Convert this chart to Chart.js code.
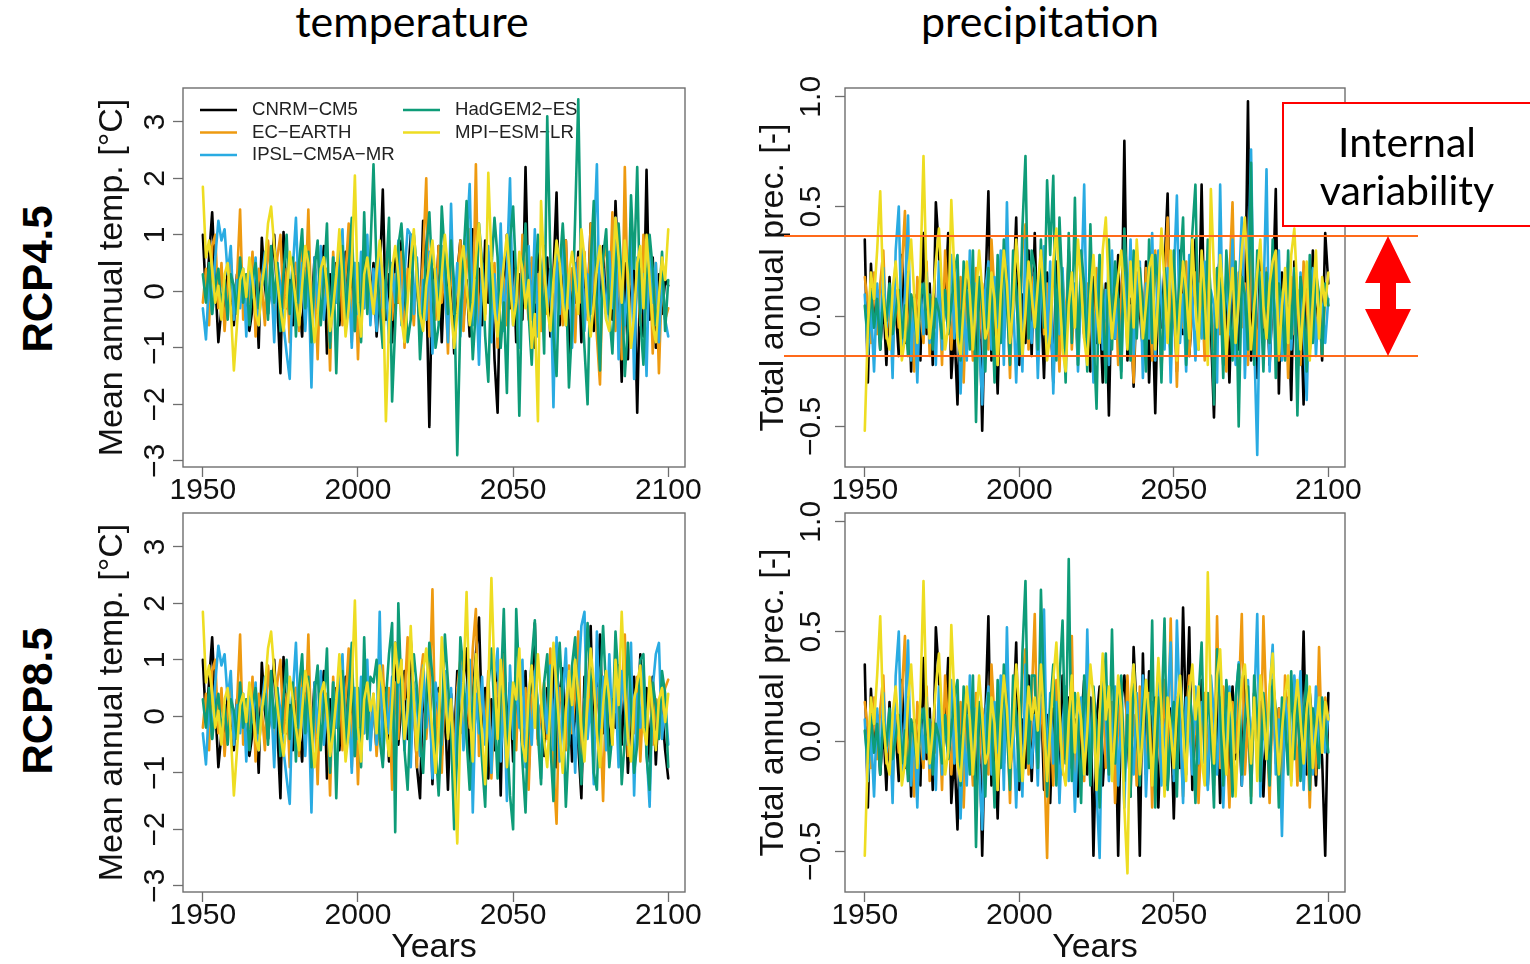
<!DOCTYPE html>
<html>
<head>
<meta charset="utf-8">
<script src="https://cdn.jsdelivr.net/npm/chart.js@4.4.1/dist/chart.umd.min.js"></script>
<style>
  body { margin: 0; background: #fff; width: 1530px; height: 964px; overflow: hidden; position: relative; }
  canvas { position: absolute; }
  .head { position: absolute; font-family: Lato, sans-serif; font-size: 43px; line-height: 1; color: #000; white-space: nowrap; transform: translateX(-50%); }
  .row { position: absolute; font-family: "Liberation Sans", Arial, sans-serif; font-weight: bold; font-size: 42px; line-height: 1; color: #000; white-space: nowrap; transform: translate(-50%, -50%) rotate(-90deg); }
</style>
</head>
<body>
<div class="head" style="left:412px;top:-1px">temperature</div>
<div class="head" style="left:1040px;top:-1px">precipitation</div>
<div class="row" style="left:38px;top:279px">RCP4.5</div>
<div class="row" style="left:38px;top:701px">RCP8.5</div>
<canvas id="temp45" width="740" height="450" style="left:0;top:60px"></canvas>
<canvas id="prec45" width="790" height="450" style="left:740px;top:60px"></canvas>
<canvas id="temp85" width="740" height="479" style="left:0;top:485px"></canvas>
<canvas id="prec85" width="790" height="479" style="left:740px;top:485px"></canvas>
<script>
// Annual anomalies per GCM, 1950-2100.
// Historical runs (1950-2004) are shared by both scenarios; scenario runs cover 2005-2100.
const FIRST_YEAR = 1950
const LAST_YEAR = 2100

const MODELS = ['CNRM\u2212CM5', 'EC\u2212EARTH', 'IPSL\u2212CM5A\u2212MR', 'HadGEM2\u2212ES', 'MPI\u2212ESM\u2212LR']
const COLORS = ['#000000', '#EE9A10', '#29ABE2', '#0E9C78', '#EEDD22']

const X_TICKS = [1950, 2000, 2050, 2100]
const TEMP_TICKS = [-3, -2, -1, 0, 1, 2, 3]
const PREC_TICKS = [-0.5, 0, 0.5, 1]

// bounds of the internal variability band (precipitation, RCP4.5)
const BAND_HIGH = 0.366
const BAND_LOW = -0.18

// ---- mean annual temperature [°C] ----
const tempHistCNRM = [
  1.0,-0.1,0.6,1.4,0.2,-0.9,-0.3,-0.5,0.4,-0.2,
  -0.6,0.3,-0.2,0.1,-0.4,-0.7,-0.3,0.2,-1.0,0.95,
  0.1,-0.4,0.3,1.0,-0.2,-1.45,1.05,-0.3,0.2,-0.6,
  0.5,-0.2,-0.8,0.4,0.1,-0.4,0.6,-0.5,0.2,0.8,
  -1.1,0.3,-0.3,0.5,-0.6,0.2,0.7,-0.2,0.4,-0.7,
  0.3,-0.4,0.6,0.1,-0.3]
const tempR45CNRM = [
  0.5,-0.8,0.2,1.8,-0.5,
  0.3,-0.9,0.6,-0.2,0.9,-0.6,0.1,1.0,-0.4,0.3,
  -0.7,1.25,0.2,-2.4,0.4,-0.3,0.8,-0.9,0.5,-0.2,
  0.6,-1.1,0.3,0.9,-0.5,0.2,-0.8,1.1,-0.3,0.4,
  -0.6,0.9,-0.2,0.5,-1.2,-2.15,0.6,-0.4,1.0,-0.3,
  0.7,-0.9,0.3,-0.5,2.2,-0.2,0.5,-1.0,0.8,0.1,
  -0.4,0.6,-0.8,0.3,1.75,-0.6,0.2,0.9,-1.3,0.4,
  -0.2,0.7,-0.9,0.5,-0.3,1.2,-0.7,0.3,-0.5,0.8,
  -0.4,0.6,-0.5,1.6,0.2,-1.6,0.5,-1.2,0.9,0.3,
  -2.15,0.4,-0.8,2.15,-0.5,0.6,-1.0,0.3,-0.4,0.2,0.1]
const tempR85CNRM = [
  0.2,-0.6,0.9,-0.3,0.5,
  -0.8,0.4,1.3,-0.5,0.2,0.8,-0.4,1.35,0.3,-0.9,
  -1.45,0.6,-0.2,0.9,-1.2,0.3,0.5,-0.7,0.2,-1.3,
  0.4,-0.5,0.8,-0.3,0.6,1.2,-0.9,0.4,1.1,1.75,
  -0.2,0.5,-1.1,0.3,-0.6,0.9,-1.4,1.2,-0.3,0.6,
  -0.8,0.4,0.1,-0.5,0.8,-1.0,0.3,1.65,-0.4,0.2,
  -0.7,0.5,-0.2,0.9,-0.9,0.4,0.85,-0.3,0.6,-0.8,
  0.3,-0.5,-1.45,0.7,0.2,1.6,-0.6,0.4,1.45,-0.3,
  0.5,-0.7,0.3,-0.2,0.9,-0.5,0.6,-1.0,0.2,0.7,
  -0.4,1.1,-0.2,0.5,-0.8,0.7,-0.85,0.3,0.1,-0.6,-1.1]

const tempHistEC = [
  -0.2,0.4,-0.6,0.8,1.0,-0.3,0.5,-0.7,0.1,0.6,
  -0.4,0.2,1.45,-0.5,0.3,-0.2,0.7,-0.8,0.4,0.1,
  -0.6,0.9,0.3,-0.4,0.6,1.0,-0.3,0.4,-0.9,0.2,
  0.5,-0.7,0.8,-0.2,1.45,-0.5,0.3,-1.2,0.6,-0.3,
  0.4,-1.4,0.7,-0.2,0.9,-0.6,0.3,1.2,-0.9,0.5,
  -1.2,0.4,-0.3,0.8,-0.5]
const tempR45EC = [
  0.3,-0.4,0.6,-0.9,0.2,
  0.9,-0.5,0.3,-0.2,0.7,-1.0,0.4,0.1,-0.6,0.5,
  -0.3,0.6,2.0,-0.8,0.2,-0.5,0.8,-0.2,0.4,-1.1,
  0.6,-0.3,0.2,0.9,-0.7,0.4,1.1,-0.5,2.25,-0.9,
  0.3,-0.4,0.7,-0.2,0.5,-1.0,0.6,0.2,-0.6,0.9,
  -0.3,0.4,-0.8,1.0,0.2,-0.5,0.6,-0.2,0.3,-0.7,
  0.8,-0.4,0.3,-1.1,0.5,0.2,-0.6,0.9,-0.3,0.4,
  -0.9,0.6,-0.2,0.7,-0.5,1.2,0.3,-0.8,-1.65,0.5,
  0.9,-0.4,1.4,-0.7,0.5,-1.2,2.2,-0.3,0.6,-0.9,
  0.4,-0.6,1.0,-0.3,0.7,-1.1,0.5,-1.45,0.3,-0.5,-0.3]
const tempR85EC = [
  0.4,-0.7,0.2,0.9,-0.3,
  0.5,-1.3,0.6,-0.4,0.8,0.3,1.4,-0.5,0.2,-0.9,
  0.6,1.1,-0.4,0.3,2.25,-0.6,0.4,-1.0,0.7,-0.2,
  0.3,-0.8,0.5,1.0,-0.5,0.4,-0.2,1.2,1.9,-0.7,
  0.5,-0.3,0.8,-1.1,0.2,0.6,-0.4,1.1,-0.8,0.3,
  0.4,-0.6,0.9,-0.2,0.5,-1.3,0.3,0.7,-0.5,0.2,
  0.6,-0.4,1.2,-0.9,-1.9,0.5,0.2,-0.6,0.9,-0.3,
  0.4,1.5,-0.7,0.3,-0.2,0.8,-1.0,0.5,0.1,-1.5,
  0.6,0.3,-0.5,0.9,-0.2,0.4,1.45,-0.7,0.5,-0.3,
  0.7,-0.8,0.4,-0.2,0.6,-0.5,0.3,-0.4,0.2,0.5,0.65]

const tempHistIPSL = [
  -0.3,-0.85,0.2,-0.4,0.6,1.25,0.9,1.1,0.3,0.8,
  -0.5,0.2,-0.3,0.4,-0.8,0.5,-0.1,0.6,-0.6,0.2,
  0.7,-0.4,0.3,-0.9,0.5,0.1,-0.6,-1.1,-1.55,0.4,
  1.3,-0.2,0.5,-0.7,0.3,-1.7,0.6,-0.3,0.8,-0.5,
  0.2,-0.9,0.6,-0.2,0.4,1.1,-0.6,0.3,-1.0,0.5,
  -0.4,0.7,-0.3,1.0,-0.6]
const tempR45IPSL = [
  0.4,-0.7,0.8,-0.3,0.2,
  -0.9,0.5,-0.2,0.9,-0.6,0.3,1.1,1.0,-0.4,0.6,
  -0.8,0.2,-0.5,0.7,-1.1,0.4,-0.3,0.8,0.1,-0.9,
  1.55,-0.4,0.5,-0.8,0.3,0.9,1.9,-0.6,0.2,-1.3,
  0.5,-0.2,0.8,-0.9,0.3,-0.5,1.2,-0.7,0.4,2.0,
  -0.6,0.3,-1.0,0.5,-0.2,0.8,-0.5,1.1,-0.8,0.2,
  0.6,-0.3,0.4,-2.05,0.7,-0.4,0.9,-0.6,0.3,-1.0,
  0.5,-0.2,1.0,-0.7,0.3,-0.4,0.8,2.25,-0.9,0.4,
  -0.5,0.7,-0.3,1.3,-1.2,0.4,-0.6,0.2,1.0,-1.55,
  0.6,-0.4,0.3,-1.5,0.8,-0.2,0.5,-0.9,0.3,-0.5,-0.8]
const tempR85IPSL = [
  0.3,-0.5,1.85,-0.8,0.4,
  -0.3,0.7,-1.0,0.5,1.0,-0.6,0.3,-0.9,0.6,0.2,
  -0.7,0.9,-0.2,0.4,-1.1,0.6,0.1,-0.5,0.8,-0.3,
  0.5,-1.2,0.3,0.9,-0.6,0.2,1.0,-1.7,0.4,-0.3,
  0.7,-0.5,0.3,-1.0,0.6,1.2,-0.8,0.4,-1.5,0.9,
  -0.4,0.6,-0.2,1.0,-0.9,0.3,-0.5,0.8,0.2,-1.1,
  0.5,-0.3,0.9,-0.6,1.4,-0.8,0.3,1.2,-0.5,0.4,
  -1.0,0.6,1.6,1.85,-0.4,0.3,-1.2,1.5,-0.2,0.7,
  -0.6,1.1,-0.3,0.5,-0.9,0.8,0.2,-0.5,1.3,-1.4,
  0.4,-0.2,0.9,-0.6,-1.6,0.5,1.1,1.3,-0.4,0.3,-0.5]

const tempHistHad = [
  0.3,-0.2,0.5,-0.4,0.1,0.4,-0.3,0.2,-0.5,0.3,
  0.1,-0.4,0.6,-0.2,0.3,-0.6,0.2,0.5,-0.3,0.1,
  0.4,-0.5,0.8,-0.2,0.5,-0.7,0.3,1.0,-0.4,0.6,
  -0.8,0.5,1.1,-0.3,0.7,-0.9,0.4,0.9,-0.6,0.2,
  1.2,-1.0,0.6,-1.45,0.3,0.8,-0.5,0.4,1.3,-0.7,
  0.5,-0.9,1.4,-0.4,0.7]
const tempR45Had = [
  2.25,0.4,-0.3,-1.0,0.2,
  1.3,-1.95,-0.6,0.8,1.2,0.3,-0.9,-0.5,1.0,0.4,
  -1.2,-0.3,0.7,1.4,0.2,-1.0,-0.6,1.5,0.6,-0.4,
  0.9,0.1,-2.9,-0.5,0.6,1.6,0.2,-1.2,-0.3,1.2,
  0.5,-0.8,-1.6,0.4,1.3,0.6,-1.0,-0.2,-1.8,0.9,
  1.5,0.2,-2.2,0.3,1.2,-0.4,-1.3,0.1,1.0,0.4,
  -1.1,3.1,0.6,-0.8,-1.5,0.4,1.2,0.2,-1.7,-0.6,
  1.3,3.4,0.1,-1.0,-2.0,0.5,1.6,-0.3,-1.4,0.6,
  1.1,-0.4,-1.1,0.3,1.2,0.2,-1.5,-0.6,1.7,0.4,
  2.2,-0.5,-1.3,0.2,1.0,0.4,-0.6,-0.2,0.7,-0.7,0.2]
const tempR85Had = [
  0.6,1.0,-0.4,-0.9,0.3,
  1.1,1.65,-2.05,2.0,0.4,-0.6,-1.3,0.2,1.1,0.5,
  -0.4,-1.0,0.3,1.3,0.7,-0.5,-1.4,-0.2,1.45,0.6,
  -0.3,-2.0,-0.6,1.4,0.8,-0.4,-1.3,0.2,1.0,0.3,
  -0.8,-1.6,0.5,1.2,0.1,-1.1,0.4,1.9,-0.3,-1.4,
  -2.0,1.9,0.6,-0.8,-1.7,0.2,1.0,1.7,-0.3,-1.2,
  0.6,1.1,-0.5,-1.5,0.4,1.3,0.2,-1.6,-0.4,0.9,
  1.4,-0.2,-1.2,0.3,1.65,0.7,-1.0,-1.3,0.5,1.6,
  0.4,-0.9,-0.3,1.5,0.6,-1.2,-0.4,1.3,0.2,-1.0,
  -0.5,1.0,1.1,-0.7,-1.3,0.6,0.2,-0.4,0.8,0.4,-0.9]

const tempHistMPI = [
  1.85,0.6,0.9,0.4,-0.2,0.1,-0.5,0.3,0.5,-0.3,
  -1.4,-0.6,0.2,0.4,-0.1,0.6,0.2,-0.4,-0.6,0.1,
  0.5,1.2,1.5,0.8,0.2,-0.3,-0.7,-0.1,0.7,0.3,
  -0.2,-0.6,0.1,0.8,0.5,-0.2,-0.9,-0.4,0.4,0.6,
  0.1,-0.7,-0.3,0.3,1.1,0.2,-0.8,-0.3,0.5,2.05,
  -0.2,-0.8,0.3,0.6,0.1]
const tempR45MPI = [
  -0.4,0.3,0.9,0.2,-2.3,
  -0.6,0.4,0.8,0.3,-0.5,-0.9,-0.2,0.6,1.1,0.2,
  -0.4,-0.7,0.1,0.5,0.9,0.2,-0.5,0.3,1.0,0.4,
  -0.3,-1.0,-0.4,0.5,0.8,0.1,-0.6,-0.2,0.6,1.2,
  0.3,-0.5,2.1,0.6,-0.3,-0.8,-0.1,0.5,1.0,0.2,
  -0.6,-0.2,0.7,0.4,-0.3,0.2,-1.0,-0.4,-2.3,1.6,
  0.4,-0.3,-0.7,0.2,0.9,0.5,-0.2,-0.6,0.3,0.7,
  0.2,-0.4,1.1,0.6,-0.3,-0.8,-0.2,0.4,0.8,0.1,
  -0.5,-0.7,0.2,1.3,0.6,-0.2,0.9,0.3,-1.0,-0.4,
  0.5,0.8,-0.3,1.0,0.2,-0.6,-0.9,-0.1,0.6,0.2,1.1]
const tempR85MPI = [
  0.4,-0.3,0.9,0.5,-0.2,
  -0.7,0.2,1.3,0.6,1.0,-0.4,0.1,1.6,0.3,-0.6,
  0.2,0.8,1.2,0.4,-0.3,-1.0,-0.2,1.4,0.5,-0.4,
  0.3,-0.9,-2.25,-0.2,0.6,2.2,0.1,-0.8,1.1,0.4,
  -0.3,-1.2,0.5,2.45,0.7,-0.4,1.0,0.2,-0.9,-0.2,
  0.6,0.3,1.2,-0.5,-0.8,0.4,0.9,-0.2,1.1,0.3,
  -0.4,-0.9,0.2,1.3,0.5,-0.3,-1.0,0.1,0.8,0.2,
  1.0,0.4,-0.2,-0.8,0.3,1.2,0.6,-0.3,-0.9,0.2,
  0.8,0.3,-0.5,1.0,0.2,1.85,0.5,-0.4,-0.8,0.3,
  0.6,0.9,-0.2,-0.5,0.7,0.1,-0.6,0.3,0.5,-0.1,0.4]

// ---- total annual precipitation [-] ----
const precHistCNRM = [
  .35,-.30,.24,-.05,.12,-.15,.08,-.22,.18,-.10,
  .05,-.18,.28,-.12,.20,-.25,.10,.02,-.20,.38,
  -.08,.15,-.22,.52,.30,-.12,.05,.38,-.28,-.05,
  -.40,.12,-.18,.22,-.10,.08,-.30,.15,-.52,.10,
  .57,-.20,.05,-.35,.18,-.10,.25,-.15,.08,.45,
  -.22,.10,-.12,.30,-.18]
const precR45CNRM = [
  .38,-.15,.10,-.28,.20,
  .05,-.30,.25,-.10,.15,-.22,.30,-.05,.12,-.18,
  .22,-.08,.10,-.25,.18,-.12,.05,-.30,.15,-.45,
  .20,-.10,.28,-.15,.80,-.20,.08,-.32,.12,.02,
  -.15,.25,-.30,.10,-.44,.18,-.05,.22,.56,-.20,
  .12,-.25,.30,-.08,.15,-.18,.05,.35,-.12,.60,
  -.10,.20,-.05,-.46,.15,.28,-.22,.10,-.30,.18,
  .05,-.15,.25,-.08,.98,-.20,.12,-.28,.30,-.10,
  .15,-.22,.08,.58,-.35,.20,-.12,.05,-.38,.25,
  -.10,.12,-.40,.22,-.15,.30,-.05,.10,-.20,.38,.15]
const precR85CNRM = [
  .18,-.10,.25,-.22,.12,
  -.28,.15,.05,-.18,.30,-.08,.20,-.12,.10,-.25,
  .08,.28,-.15,.20,-.52,.10,.25,-.20,.05,.15,
  -.10,.22,-.52,.18,.30,.05,-.25,.43,.12,-.52,
  .40,-.15,.32,-.08,.20,-.30,.12,.25,-.20,.15,
  -.35,.18,-.12,.61,.05,.52,-.22,.10,-.15,.28,
  .08,-.20,.15,-.10,.22,-.28,.05,.18,-.12,.25,
  -.08,.12,-.20,.30,.05,-.15,.22,-.10,.18,-.25,
  .10,-.18,.25,-.05,.15,-.22,.08,.20,-.12,.05,
  .18,-.10,.50,-.15,.22,.05,-.20,.12,-.08,-.52,.22]

const precHistEC = [
  .18,.05,-.12,.20,-.08,.15,.30,-.10,.08,-.20,
  .12,-.05,.22,.48,-.15,.10,-.25,.18,.02,-.12,
  .25,-.18,.08,-.05,.15,-.22,.30,.05,-.15,.10,
  -.08,.18,-.30,.12,.05,-.20,.22,-.10,.15,.02,
  -.15,.35,.10,-.22,.25,-.05,.12,-.28,.20,.08,
  -.10,.30,.42,-.15,.18]
const precR45EC = [
  .05,-.20,.28,-.08,.15,
  -.12,.22,.08,-.25,.18,-.05,.30,-.15,.10,-.22,
  .20,-.10,.15,.05,-.28,.22,-.08,.12,-.18,.25,
  -.05,.18,-.22,.10,.28,-.12,.05,-.30,.20,.08,
  -.15,.22,.10,-.20,.30,.05,-.25,.15,.45,-.10,
  .18,-.32,.12,-.05,.25,-.18,.08,.20,-.12,.15,
  -.20,.28,.05,-.15,.22,-.08,.12,-.25,.18,.52,
  -.10,.20,-.05,.15,-.22,.30,.08,-.18,.12,-.05,
  .22,-.15,.10,.28,-.20,.05,.15,-.28,.18,-.08,
  .12,-.22,.25,.05,-.15,.20,-.10,.08,-.18,.10,.05]
const precR85EC = [
  .58,-.12,.20,-.05,-.53,
  .15,-.20,.28,.08,-.15,.22,-.10,.48,-.25,.12,
  .05,-.18,.30,-.08,.15,-.22,.10,.25,-.12,.05,
  .18,-.28,.08,.20,-.15,.30,-.05,.12,-.20,.25,
  .10,-.12,.22,-.30,.15,.05,-.18,.28,-.08,.56,
  -.15,.20,.08,-.25,.12,.30,-.10,.18,-.28,.05,
  .22,-.08,.15,-.20,.57,-.12,.25,.05,-.30,.18,
  -.05,.20,.58,-.15,.10,-.25,.22,.08,-.18,.57,
  .12,-.28,.20,-.10,.15,-.22,.30,.05,-.12,.18,
  -.20,.25,-.08,.12,-.30,.15,-.15,.43,-.05,.20,.10]

const precHistIPSL = [
  .10,-.18,.05,-.25,.15,-.10,.22,-.05,.12,-.28,
  .30,.50,-.15,.10,.46,-.20,.08,-.30,.15,-.08,
  .20,-.12,.05,-.22,.25,-.15,.10,-.05,.28,-.10,
  .22,-.35,.05,-.20,.30,-.08,.15,-.10,-.40,.12,
  .25,-.15,.18,-.05,.30,-.22,.52,-.10,.08,-.30,
  .15,-.25,.35,.05,-.12]
const precR45IPSL = [
  .20,-.28,.10,.32,-.15,
  .25,-.35,.12,-.08,.22,-.18,.30,-.05,.15,-.25,
  .10,.60,-.20,.18,-.30,.05,.28,-.15,.12,-.22,
  .30,-.10,.08,-.25,.20,-.05,.35,-.18,.12,.25,
  -.28,.15,-.10,.38,-.20,.30,.05,-.15,.22,-.30,
  .18,.55,-.12,.10,-.25,.28,.08,-.20,.15,-.10,
  .25,-.18,.12,.05,-.30,.60,-.15,.20,-.08,.35,
  -.22,.10,.45,-.28,.15,.76,-.10,-.63,.20,.05,
  .67,-.25,.18,-.12,.30,-.20,.08,.25,-.15,.12,
  -.30,.20,-.05,-.38,.15,.22,-.18,.10,.05,-.12,.08]
const precR85IPSL = [
  .12,-.20,.30,.60,-.15,
  .22,-.10,.18,-.28,.08,.25,-.18,.12,-.32,.05,
  .20,-.15,.51,-.08,.15,-.22,-.53,.28,.10,-.18,
  .05,.25,-.20,.12,-.30,.18,.08,-.15,.22,-.10,
  .30,-.25,.10,.18,-.12,.28,-.20,.05,.15,.45,
  -.18,.55,.12,-.28,.20,.08,-.15,.25,-.10,.18,
  .05,-.22,.30,.12,-.15,.20,-.30,.08,.25,-.12,
  .18,.36,-.20,.10,.28,-.05,.15,.58,-.25,.12,
  -.08,.22,.44,-.15,.10,-.43,.20,.05,-.18,.30,
  .12,.32,-.22,.08,.20,-.15,.25,-.10,.18,-.05,.12]

const precHistHad = [
  .05,-.10,.12,-.05,.08,-.15,.10,-.02,.15,-.08,
  .02,.12,-.10,.05,-.18,.10,.02,-.12,.08,.15,
  -.05,.10,-.15,.08,.02,-.10,.12,-.08,.05,.20,
  .28,-.20,.25,.10,-.15,.30,-.48,.18,.05,-.25,
  .22,.10,-.30,.28,-.12,.35,.05,-.22,.30,.12,
  -.18,.40,.73,-.10,.30]
const precR45Had = [
  .22,-.15,.35,-.05,.62,
  .28,.64,-.20,.45,.10,-.30,.38,-.12,.54,-.22,
  .30,.15,-.25,.42,-.08,-.42,.28,.10,-.30,.35,
  -.15,.25,.08,-.28,.40,.12,-.20,.30,-.10,.22,
  .05,-.25,.35,-.12,.28,.15,-.30,.22,.08,-.18,
  .30,-.08,.20,.45,-.22,.12,.38,.60,-.15,.25,
  -.10,.35,.08,-.40,.22,.15,-.28,.30,.05,-.20,
  .25,-.50,.18,.10,-.15,.70,-.22,.30,.12,-.25,
  .20,-.12,.35,-.28,.15,.08,-.20,.30,-.10,.22,
  -.45,.18,.05,-.25,.28,-.12,.20,.10,-.18,.15,.05]
const precR85Had = [
  .30,-.12,.69,.20,-.25,
  .15,.35,-.20,.28,.55,-.10,.83,-.18,.22,.08,
  -.28,.30,.12,-.20,.25,.05,-.30,.18,.40,-.15,
  .51,-.10,.22,.30,-.18,.12,-.25,.35,.08,-.20,
  .15,.28,-.12,.55,-.30,.20,.10,.56,-.22,.05,
  .18,-.25,.30,.12,-.15,.25,.08,-.28,.20,.45,
  -.10,.22,.05,-.30,.42,.15,-.20,.28,.10,-.25,
  .20,.35,-.15,.08,.25,-.28,.30,.12,-.18,.22,
  .05,-.20,.28,.15,-.30,.20,.10,-.15,.32,-.08,
  .25,-.18,.12,.30,-.22,.15,.05,-.12,.20,.08,-.05]

const precHistMPI = [
  -.52,-.05,.20,.08,.30,.57,.10,-.08,-.15,.12,
  .25,.05,-.20,-.10,.18,.35,.10,-.12,.20,.73,
  .15,-.10,.05,.25,.40,.12,-.15,-.05,.53,.20,
  -.10,-.18,.05,.25,.10,-.15,.08,.30,.12,-.10,
  -.05,.20,.08,-.22,.10,.30,.15,-.12,.05,.35,
  .15,-.18,.02,.25,.10]
const precR45MPI = [
  -.05,.15,.30,.08,-.20,
  -.08,.25,.40,.12,-.15,-.25,.05,.20,-.05,.35,
  .15,-.10,-.22,.10,.28,.05,-.12,.30,.45,.10,
  -.10,.05,.18,.30,.08,-.15,.25,-.05,.35,.12,
  -.10,.05,.22,.28,-.15,.10,.40,.15,-.12,.30,
  .08,-.20,.05,.25,.12,-.10,.35,.05,-.15,.30,
  .10,-.22,.58,.20,-.05,.28,.10,-.18,.05,.22,
  -.12,.08,.30,.45,.15,-.15,.05,.20,.35,.05,
  -.10,.15,.25,.30,-.18,.05,.22,-.12,.28,.40,
  .10,-.15,.05,.25,-.20,.08,.30,-.10,.18,.05,.20]
const precR85MPI = [
  .20,.05,.35,.10,-.18,
  .05,.28,.45,.15,-.12,-.20,.10,.30,-.05,.22,
  .10,-.15,.05,.35,.20,-.22,.12,.40,.10,.25,
  -.18,.05,.30,.15,-.30,-.60,.20,.35,.10,-.15,
  .05,.28,.12,-.20,.10,.38,.15,-.25,.20,.05,
  -.12,.15,.30,.05,-.18,.22,.35,.10,.25,-.08,
  -.20,.77,.15,-.10,.30,.42,.05,-.15,.22,.10,
  -.25,.05,.28,.35,.12,-.10,.20,-.18,.30,.15,
  -.08,.25,.40,.10,-.15,.05,.22,.30,-.20,.12,
  .28,.10,-.10,.15,.25,-.12,.05,.20,-.05,.18,.10]

const YEARS = []
for (let yr = FIRST_YEAR; yr <= LAST_YEAR; yr++) YEARS.push(yr)

const INK = '#111111'
const AXIS = '#6e6e6e'
Chart.defaults.font.family = '"Liberation Sans", Arial, Helvetica, sans-serif'
Chart.defaults.color = INK

const minus = s => s.replace('-', '\u2212')

// box around the plotting region, drawn over the lines like R's box()
const frame = {
  id: 'frame',
  afterDatasetsDraw (chart) {
    const {ctx, chartArea: a} = chart
    ctx.save()
    ctx.strokeStyle = AXIS
    ctx.lineWidth = 1.4
    ctx.strokeRect(a.left, a.top, a.right - a.left, a.bottom - a.top)
    ctx.restore()
  }
}

// R-style legend without a box, two columns, lines overdraw it
const modelKey = {
  id: 'modelKey',
  beforeDatasetsDraw (chart) {
    const {ctx, chartArea: a} = chart
    ctx.save()
    ctx.font = '18.6px "Liberation Sans", Arial, sans-serif'
    ctx.textBaseline = 'middle'
    ctx.fillStyle = '#222'
    ctx.lineWidth = 2.6
    MODELS.forEach((name, m) => {
      const col = m < 3 ? 0 : 1
      const row = m < 3 ? m : m - 3
      const x0 = a.left + (col ? 220 : 17)
      const y = a.top + 22 + row * 22.5
      ctx.strokeStyle = COLORS[m]
      ctx.beginPath()
      ctx.moveTo(x0, y)
      ctx.lineTo(x0 + 37, y)
      ctx.stroke()
      ctx.fillText(name, x0 + 52, y)
    })
    ctx.restore()
  }
}

// orange band, red double arrow and the text box
const bandNote = {
  id: 'bandNote',
  afterDraw (chart) {
    const {ctx, chartArea: a, scales: {y}} = chart
    const yHi = y.getPixelForValue(BAND_HIGH)
    const yLo = y.getPixelForValue(BAND_LOW)
    ctx.save()

    ctx.fillStyle = '#fff'
    ctx.strokeStyle = '#ff0000'
    ctx.lineWidth = 2
    ctx.fillRect(a.right - 62, a.top + 15, chart.width, 123)
    ctx.strokeRect(a.right - 62, a.top + 15, chart.width, 123)
    ctx.fillStyle = '#000'
    ctx.font = '41px Lato, sans-serif'
    ctx.textAlign = 'center'
    ctx.fillText('Internal', a.right + 62, a.top + 69)
    ctx.fillText('variability', a.right + 62, a.top + 117)

    ctx.strokeStyle = '#ff6a1a'
    ctx.lineWidth = 2
    for (const py of [yHi, yLo]) {
      ctx.beginPath()
      ctx.moveTo(a.left - 61, py)
      ctx.lineTo(a.right + 73, py)
      ctx.stroke()
    }

    const cx = a.right + 43, head = 47, hw = 23, sw = 8
    ctx.fillStyle = '#ff0000'
    ctx.beginPath()
    ctx.moveTo(cx, yHi)
    ctx.lineTo(cx + hw, yHi + head)
    ctx.lineTo(cx + sw, yHi + head)
    ctx.lineTo(cx + sw, yLo - head)
    ctx.lineTo(cx + hw, yLo - head)
    ctx.lineTo(cx, yLo)
    ctx.lineTo(cx - hw, yLo - head)
    ctx.lineTo(cx - sw, yLo - head)
    ctx.lineTo(cx - sw, yHi + head)
    ctx.lineTo(cx - hw, yHi + head)
    ctx.closePath()
    ctx.fill()
    ctx.restore()
  }
}

function panel (id, p) {
  const datasets = MODELS.map((name, m) => ({
    label: name,
    data: YEARS.map((yr, i) => ({x: yr, y: p.series[m][i]})),
    borderColor: COLORS[m],
    borderWidth: 2.6,
    borderJoinStyle: 'round',
    borderCapStyle: 'round',
    pointRadius: 0,
    fill: false,
    order: MODELS.length - m  // MPI last in the list, painted on top
  }))

  return new Chart(document.getElementById(id), {
    type: 'line',
    data: {datasets},
    options: {
      animation: false,
      responsive: false,
      devicePixelRatio: 1,
      events: [],
      layout: {padding: {top: 28, right: p.right, bottom: 0, left: 0}},
      plugins: {legend: {display: false}, tooltip: {enabled: false}},
      scales: {
        x: {
          type: 'linear',
          min: 1943.6,
          max: 2105.4,
          afterBuildTicks: s => { s.ticks = X_TICKS.map(v => ({value: v})) },
          afterFit: s => { s.height = p.xHeight },
          grid: {drawOnChartArea: false, tickLength: 10, tickColor: AXIS, tickWidth: 1.3},
          border: {display: false},
          ticks: {font: {size: 30}, color: INK, padding: -4, maxRotation: 0, autoSkip: false, callback: v => String(v)},
          title: {display: !!p.xTitle, text: p.xTitle || '', font: {size: 34}, color: INK, padding: {top: 0, bottom: -4}}
        },
        y: {
          type: 'linear',
          min: p.yMin,
          max: p.yMax,
          afterBuildTicks: s => { s.ticks = p.yTicks.map(v => ({value: v})) },
          afterFit: s => { s.width = p.yWidth },
          grid: {drawOnChartArea: false, tickLength: 10, tickColor: AXIS, tickWidth: 1.3},
          border: {display: false},
          ticks: {font: {size: 30}, color: INK, minRotation: 90, maxRotation: 90, crossAlign: 'center',
            padding: p.yPad, autoSkip: false, callback: p.yFormat},
          title: {display: true, text: p.yTitle, font: {size: 34}, color: INK, padding: {top: p.yTitlePad, bottom: 0}}
        }
      }
    },
    plugins: [frame].concat(p.extra || [])
  })
}

const tempFmt = v => minus(String(v))
const precFmt = v => minus(v.toFixed(1))

const tempRcp45 = [
  tempHistCNRM.concat(tempR45CNRM), tempHistEC.concat(tempR45EC), tempHistIPSL.concat(tempR45IPSL),
  tempHistHad.concat(tempR45Had), tempHistMPI.concat(tempR45MPI)]
const tempRcp85 = [
  tempHistCNRM.concat(tempR85CNRM), tempHistEC.concat(tempR85EC), tempHistIPSL.concat(tempR85IPSL),
  tempHistHad.concat(tempR85Had), tempHistMPI.concat(tempR85MPI)]
const precRcp45 = [
  precHistCNRM.concat(precR45CNRM), precHistEC.concat(precR45EC), precHistIPSL.concat(precR45IPSL),
  precHistHad.concat(precR45Had), precHistMPI.concat(precR45MPI)]
const precRcp85 = [
  precHistCNRM.concat(precR85CNRM), precHistEC.concat(precR85EC), precHistIPSL.concat(precR85IPSL),
  precHistHad.concat(precR85Had), precHistMPI.concat(precR85MPI)]

const tempAxis = {yMin: -3.11, yMax: 3.60, yTicks: TEMP_TICKS, yFormat: tempFmt, yTitle: 'Mean annual temp. [°C]',
  yWidth: 183, yPad: 0, yTitlePad: 92.6, right: 55}
const precAxis = {yMin: -0.685, yMax: 1.04, yTicks: PREC_TICKS, yFormat: precFmt, yTitle: 'Total annual prec. [-]',
  yWidth: 105, yPad: -6, yTitlePad: 13.6, right: 185}

panel('temp45', Object.assign({}, tempAxis, {series: tempRcp45, xHeight: 43, extra: [modelKey]}))
panel('prec45', Object.assign({}, precAxis, {series: precRcp45, xHeight: 43, extra: [bandNote]}))
panel('temp85', Object.assign({}, tempAxis, {series: tempRcp85, xHeight: 72, xTitle: 'Years'}))
panel('prec85', Object.assign({}, precAxis, {series: precRcp85, xHeight: 72, xTitle: 'Years'}))
</script>
</body>
</html>
